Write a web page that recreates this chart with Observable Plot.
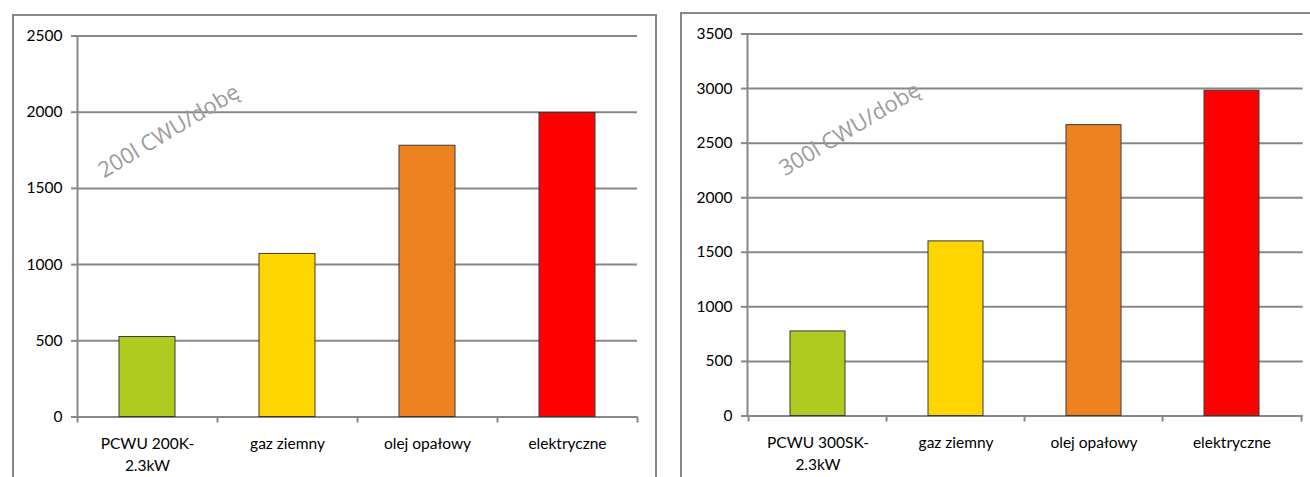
<!DOCTYPE html>
<html>
<head>
<meta charset="utf-8">
<script src="https://cdn.jsdelivr.net/npm/d3@7"></script>
<script src="https://cdn.jsdelivr.net/npm/@observablehq/plot@0.6"></script>
<style>
  html, body { margin: 0; padding: 0; background: #fff; }
  body { position: relative; width: 1310px; height: 477px; overflow: hidden; }
  .border { position: absolute; border: 2px solid #878787; box-sizing: border-box; }
  .panel { position: absolute; top: 0; }
  .panel svg { display: block; }
</style>
</head>
<body>
<div class="border" style="left:12px; top:14px; width:645px; height:520px;"></div>
<div class="border" style="left:680px; top:12px; width:700px; height:520px;"></div>
<div id="left" class="panel" style="left:0px;"></div>
<div id="right" class="panel" style="left:660px;"></div>
<script>
const leftCategories = ["PCWU 200K-2.3kW", "gaz ziemny", "olej opałowy", "elektryczne"];
const leftValues = [525, 1070, 1780, 1995];
const leftTicks = [0, 500, 1000, 1500, 2000, 2500];
const leftLabel = "200l CWU/dobę";

const rightCategories = ["PCWU 300SK-2.3kW", "gaz ziemny", "olej opałowy", "elektryczne"];
const rightValues = [775, 1600, 2665, 2980];
const rightTicks = [0, 500, 1000, 1500, 2000, 2500, 3000, 3500];
const rightLabel = "300l CWU/dobę";

const barColors = ["#B0CB1F", "#FFD500", "#EE8220", "#FF0000"];

const GRID = "#878787";

function panel(cats, vals, ticks, label, dims) {
  const data = cats.map((c, i) => ({cat: c, val: vals[i], color: barColors[i]}));
  const plotW = dims.width - dims.ml - dims.mr;
  const step = plotW / cats.length;
  return Plot.plot({
    width: dims.width,
    height: dims.height,
    marginLeft: dims.ml,
    marginRight: dims.mr,
    marginTop: dims.mt,
    marginBottom: dims.mb,
    style: {fontFamily: "Lato, 'Noto Sans', sans-serif", fontSize: "15.5px", color: "#000", background: "transparent", overflow: "visible"},
    x: {domain: cats, paddingInner: 0.6, paddingOuter: 0.3, axis: null},
    y: {domain: [0, ticks[ticks.length - 1]], axis: null},
    color: {type: "identity"},
    marks: [
      Plot.ruleY(ticks, {stroke: GRID, strokeWidth: 2}),
      Plot.frame({anchor: "left", stroke: GRID, strokeWidth: 2}),
      Plot.axisY({ticks: ticks, label: null, tickSize: 6, tickPadding: 9, stroke: GRID, strokeWidth: 2, fill: "#000", tickFormat: d3.format("d")}),
      Plot.axisX({label: null, tickSize: 6, stroke: GRID, strokeWidth: 2, dx: -step / 2, tickFormat: () => ""}),
      Plot.axisX({label: null, ticks: [cats[cats.length - 1]], tickSize: 6, stroke: GRID, strokeWidth: 2, dx: step / 2, tickFormat: () => ""}),
      Plot.barY(data, {x: "cat", y: "val", fill: "color", stroke: "#3a3a3a", strokeWidth: 1}),
      Plot.axisX({label: null, tickSize: 0, tickPadding: 17, lineHeight: 1.4, fill: "#000", tickFormat: d => d.replace("-", "-\n")}),
      Plot.text([label], {text: d => d, frameAnchor: "top-left", dx: dims.wx, dy: dims.wy, rotate: -31, textAnchor: "middle", fill: "#9c9c9c", fontSize: 22, fontFamily: "'Open Sans', sans-serif", fontWeight: 400})
    ]
  });
}

document.getElementById("left").append(
  panel(leftCategories, leftValues, leftTicks, leftLabel,
    {width: 660, height: 477, ml: 77, mr: 23, mt: 35.5, mb: 60.5, wx: 87, wy: 88})
);
document.getElementById("right").append(
  panel(rightCategories, rightValues, rightTicks, rightLabel,
    {width: 650, height: 477, ml: 87, mr: 7.3, mt: 33.5, mb: 61.5, wx: 98, wy: 88})
);
</script>
</body>
</html>
